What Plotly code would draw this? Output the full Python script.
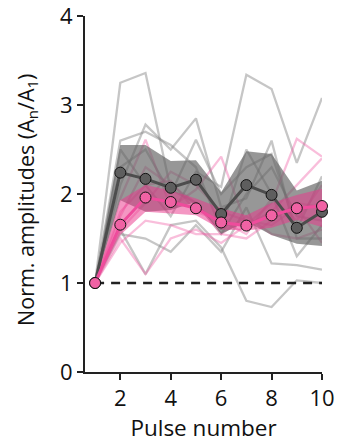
import plotly.graph_objects as go

pulses = [1, 2, 3, 4, 5, 6, 7, 8, 9, 10]

gray_cells = [
    [1, 3.25, 3.36, 2.05, 1.90, 1.55, 2.00, 2.30, 1.75, 1.70],
    [1, 2.50, 2.10, 1.75, 2.25, 2.08, 3.34, 3.18, 2.35, 3.08],
    [1, 2.10, 2.78, 2.50, 2.85, 1.85, 1.95, 2.60, 1.50, 1.50],
    [1, 2.30, 2.50, 2.00, 2.61, 2.00, 2.30, 2.45, 1.60, 2.20],
    [1, 1.60, 1.10, 1.65, 1.70, 1.40, 0.80, 0.73, 1.03, 1.00],
    [1, 1.55, 1.50, 1.35, 1.65, 1.35, 1.85, 1.22, 1.20, 1.15],
    [1, 2.60, 2.70, 2.55, 2.30, 1.60, 2.50, 2.00, 1.30, 1.65],
]
pink_cells = [
    [1, 1.95, 2.61, 1.85, 2.05, 2.42, 1.65, 1.80, 2.10, 2.40],
    [1, 1.50, 1.10, 1.50, 1.60, 1.45, 1.65, 1.90, 2.62, 2.42],
    [1, 1.75, 2.30, 2.10, 1.90, 1.55, 1.50, 1.70, 1.90, 1.85],
    [1, 1.45, 1.70, 1.65, 1.55, 1.55, 1.75, 1.55, 1.50, 1.60],
    [1, 1.80, 2.10, 2.15, 1.80, 1.70, 1.55, 1.95, 1.70, 2.10],
    [1, 1.60, 1.90, 2.25, 2.10, 1.80, 1.70, 1.65, 1.85, 1.45],
]

gray_mean = [1, 2.24, 2.17, 2.07, 2.16, 1.775, 2.10, 1.99, 1.62, 1.80]
gray_upper = [1, 2.55, 2.55, 2.37, 2.38, 2.02, 2.48, 2.45, 2.04, 2.15]
gray_lower = [1, 1.93, 1.80, 1.82, 1.91, 1.55, 1.69, 1.54, 1.44, 1.415]

pink_mean = [1, 1.655, 1.96, 1.91, 1.84, 1.68, 1.645, 1.76, 1.84, 1.865]
pink_upper = [1, 1.93, 2.10, 2.04, 1.95, 1.84, 1.76, 1.90, 1.99, 2.06]
pink_lower = [1, 1.54, 1.80, 1.78, 1.76, 1.60, 1.59, 1.62, 1.71, 1.63]

baseline_x = [1, 10]
baseline_y = [1, 1]

x_ticks = [2, 4, 6, 8, 10]
y_ticks = [0, 1, 2, 3, 4]

x_title = "Pulse number"
y_title = "Norm. amplitudes (A<sub>n</sub>/A<sub>1</sub>)"

fig = go.Figure()

for ys in gray_cells:
    fig.add_trace(go.Scatter(x=pulses, y=ys, mode="lines",
                             line=dict(color="rgba(135,135,135,0.48)", width=2.3),
                             hoverinfo="skip", showlegend=False))
for ys in pink_cells:
    fig.add_trace(go.Scatter(x=pulses, y=ys, mode="lines",
                             line=dict(color="rgba(240,100,170,0.42)", width=2.3),
                             hoverinfo="skip", showlegend=False))

fig.add_trace(go.Scatter(x=baseline_x, y=baseline_y, mode="lines",
                         line=dict(color="#222222", width=2.5, dash="9px,7px"),
                         hoverinfo="skip", showlegend=False))

# gray band
fig.add_trace(go.Scatter(x=pulses, y=gray_lower, mode="lines", line=dict(width=0),
                         hoverinfo="skip", showlegend=False))
fig.add_trace(go.Scatter(x=pulses, y=gray_upper, mode="lines", line=dict(width=0),
                         fill="tonexty", fillcolor="rgba(95,95,95,0.65)",
                         hoverinfo="skip", showlegend=False))
# pink band
fig.add_trace(go.Scatter(x=pulses, y=pink_lower, mode="lines", line=dict(width=0),
                         hoverinfo="skip", showlegend=False))
fig.add_trace(go.Scatter(x=pulses, y=pink_upper, mode="lines", line=dict(width=0),
                         fill="tonexty", fillcolor="rgba(234,55,140,0.52)",
                         hoverinfo="skip", showlegend=False))

fig.add_trace(go.Scatter(x=pulses, y=gray_mean, mode="lines+markers",
                         line=dict(color="#4d4d4d", width=3),
                         marker=dict(size=11, color="#5e5e5e",
                                     line=dict(color="#111111", width=1)),
                         cliponaxis=False, hoverinfo="skip", showlegend=False))
fig.add_trace(go.Scatter(x=pulses, y=pink_mean, mode="lines+markers",
                         line=dict(color="#ee4c9c", width=3),
                         marker=dict(size=11, color="#f062a4",
                                     line=dict(color="#111111", width=1)),
                         cliponaxis=False, hoverinfo="skip", showlegend=False))

tick_font = dict(family="Open Sans", size=22, color="#111111")

fig.update_layout(
    width=338, height=443,
    margin=dict(l=85, r=16, t=16, b=71),
    paper_bgcolor="white", plot_bgcolor="white",
    font=tick_font,
    xaxis=dict(range=[0.6, 10], tickvals=x_ticks, ticktext=[str(v) for v in x_ticks],
               showgrid=False, zeroline=False, showline=True, linecolor="#222222",
               linewidth=2, ticks="outside", ticklen=6, tickwidth=2, tickcolor="#222222",
               tickfont=tick_font, automargin=False, ticklabeloverflow="allow",
               title=dict(text=x_title,
                          font=dict(family="Open Sans", size=22.5, color="#111111"),
                          standoff=2)),
    yaxis=dict(range=[0, 4], tickvals=y_ticks, ticktext=[str(v) for v in y_ticks],
               showgrid=False, zeroline=False, showline=True, linecolor="#222222",
               linewidth=2, ticks="outside", ticklen=6, tickwidth=2, tickcolor="#222222",
               tickfont=tick_font, automargin=False, ticklabeloverflow="allow"),
    annotations=[dict(text=y_title, xref="paper", yref="paper",
                      x=-0.245, y=0.483, xanchor="center", yanchor="middle",
                      textangle=-90, showarrow=False,
                      font=dict(family="Open Sans", size=21.5, color="#111111"))],
)

fig.write_html(
    "out.html",
    config={"displayModeBar": False},
    post_script="document.body.style.margin='0';document.body.style.overflow='hidden';",
)
